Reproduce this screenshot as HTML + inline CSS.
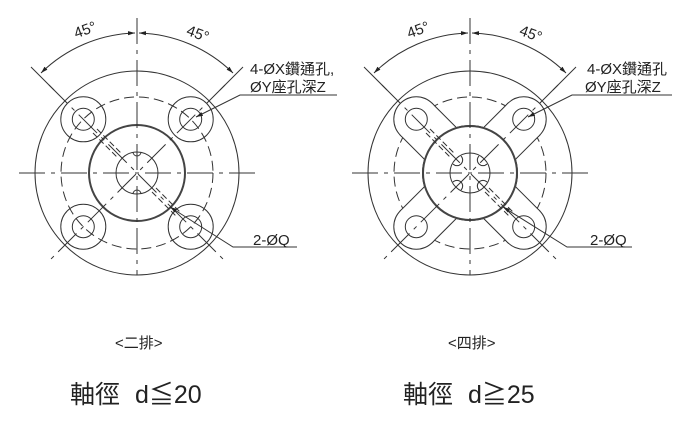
<!DOCTYPE html>
<html><head><meta charset="utf-8"><style>
html,body{margin:0;padding:0;background:#fff}
svg{display:block}
text{font-family:"Liberation Sans","Noto Sans CJK TC",sans-serif;fill:#222}
</style></head><body>
<svg width="700" height="431" viewBox="0 0 700 431" xmlns="http://www.w3.org/2000/svg">
<defs>
<marker id="ar" viewBox="0 0 10 10" refX="10" refY="5" markerWidth="7" markerHeight="7" orient="auto-start-reverse"><path d="M0,2 L10,5 L0,8 z" fill="#222"/></marker>
</defs>
<g stroke="#333" fill="none" stroke-width="1">
<!-- LEFT -->
<g transform="translate(137,173)">
<circle r="102"/>
<circle r="76" stroke-dasharray="10,5"/>
<circle r="48" stroke-width="2" stroke="#444"/>
<circle r="21"/>
<path d="M-4,-21 a4,4 0 0 0 8,0 M-4,21 a4,4 0 0 1 8,0"/>
<g stroke-dasharray="26,6,4,6">
<line x1="-118" y1="0" x2="118" y2="0"/>
<line x1="0" y1="-155" x2="0" y2="102"/>
<line x1="-88" y1="-88" x2="88" y2="88"/>
<line x1="88" y1="-88" x2="-88" y2="88"/>
</g>
<g>
<circle cx="53.7" cy="-53.7" r="22.5"/><circle cx="53.7" cy="-53.7" r="11"/>
<circle cx="-53.7" cy="-53.7" r="22.5"/><circle cx="-53.7" cy="-53.7" r="11"/>
<circle cx="53.7" cy="53.7" r="22.5"/><circle cx="53.7" cy="53.7" r="11"/>
<circle cx="-53.7" cy="53.7" r="22.5"/><circle cx="-53.7" cy="53.7" r="11"/>
</g>
<g stroke-dasharray="6,3">
<line x1="-40" y1="-44" x2="-15" y2="-19"/><line x1="-44" y1="-40" x2="-19" y2="-15"/>
<line x1="15" y1="19" x2="40" y2="44"/><line x1="19" y1="15" x2="44" y2="40"/>
</g>
<line x1="-83" y1="-83" x2="-106" y2="-106"/>
<line x1="83" y1="-83" x2="106" y2="-106"/>
<path d="M-96,-100 A140,140 0 0 1 -2,-140" marker-start="url(#ar)" marker-end="url(#ar)"/>
<path d="M2,-140 A140,140 0 0 1 96,-100" marker-start="url(#ar)" marker-end="url(#ar)"/>
</g>
<polyline points="337,95 240,95 196,117" marker-end="url(#ar)"/>
<polyline points="297,247 233,247 170,207" marker-end="url(#ar)"/>

<!-- RIGHT -->
<g transform="translate(470,173)">
<circle r="102"/>
<circle r="76" stroke-dasharray="10,5"/>
<g stroke="#333" stroke-width="2">
<g transform="rotate(45)"><rect x="-22" y="-76" width="44" height="152"/><rect x="-76" y="-22" width="152" height="44"/></g>
<circle cx="53.7" cy="-53.7" r="22"/><circle cx="-53.7" cy="-53.7" r="22"/><circle cx="53.7" cy="53.7" r="22"/><circle cx="-53.7" cy="53.7" r="22"/>
<circle r="47"/>
</g>
<g fill="#fff" stroke="none">
<g transform="rotate(45)"><rect x="-22" y="-76" width="44" height="152"/><rect x="-76" y="-22" width="152" height="44"/></g>
<circle cx="53.7" cy="-53.7" r="22"/><circle cx="-53.7" cy="-53.7" r="22"/><circle cx="53.7" cy="53.7" r="22"/><circle cx="-53.7" cy="53.7" r="22"/>
<circle r="47"/>
</g>
<circle r="47" stroke-width="2" stroke="#444"/>
<circle r="20"/>
<path d="M-17,-9 a5,5 0 0 0 8,-8 M9,-17 a5,5 0 0 0 8,8 M-17,9 a5,5 0 0 1 8,8 M9,17 a5,5 0 0 1 8,-8"/>
<g stroke-dasharray="26,6,4,6">
<line x1="-118" y1="0" x2="118" y2="0"/>
<line x1="0" y1="-155" x2="0" y2="102"/>
<line x1="-88" y1="-88" x2="88" y2="88"/>
<line x1="88" y1="-88" x2="-88" y2="88"/>
</g>
<circle cx="53.7" cy="-53.7" r="11"/><circle cx="-53.7" cy="-53.7" r="11"/><circle cx="53.7" cy="53.7" r="11"/><circle cx="-53.7" cy="53.7" r="11"/>
<g stroke-dasharray="6,3">
<line x1="-40" y1="-44" x2="-15" y2="-19"/><line x1="-44" y1="-40" x2="-19" y2="-15"/>
<line x1="15" y1="19" x2="40" y2="44"/><line x1="19" y1="15" x2="44" y2="40"/>
</g>
<line x1="-83" y1="-83" x2="-106" y2="-106"/>
<line x1="83" y1="-83" x2="106" y2="-106"/>
<path d="M-96,-100 A140,140 0 0 1 -2,-140" marker-start="url(#ar)" marker-end="url(#ar)"/>
<path d="M2,-140 A140,140 0 0 1 96,-100" marker-start="url(#ar)" marker-end="url(#ar)"/>
</g>
<polyline points="672,95 572,95 528,117" marker-end="url(#ar)"/>
<polyline points="632,247 567,247 503,207" marker-end="url(#ar)"/>
</g>

<g font-size="15">
<text x="74" y="38" transform="rotate(-20 76 32)">45°</text>
<text x="187" y="38" transform="rotate(20 196 32)">45°</text>
<text x="407" y="38" transform="rotate(-20 409 32)">45°</text>
<text x="520" y="38" transform="rotate(20 529 32)">45°</text>
<text x="250" y="74">4-ØX鑽通孔,</text>
<text x="250" y="92">ØY座孔深Z</text>
<text x="253" y="245">2-ØQ</text>
<text x="587" y="74">4-ØX鑽通孔</text>
<text x="585" y="92">ØY座孔深Z</text>
<text x="590" y="245">2-ØQ</text>
</g>
<text x="115" y="348" font-size="15">&lt;二排&gt;</text>
<text x="448" y="348" font-size="15">&lt;四排&gt;</text>
<text x="70" y="403" font-size="25">軸徑 <tspan dx="8">d≦20</tspan></text>
<text x="403" y="403" font-size="25">軸徑 <tspan dx="8">d≧25</tspan></text>
</svg>
</body></html>
